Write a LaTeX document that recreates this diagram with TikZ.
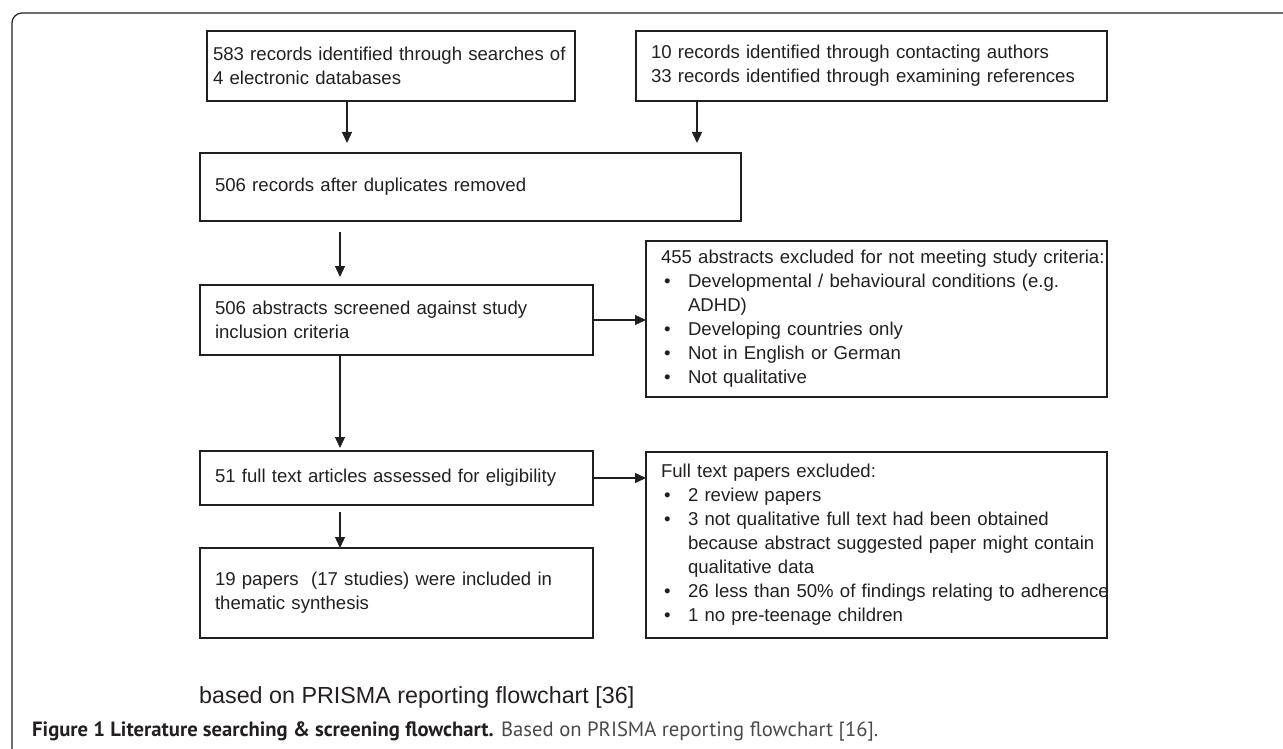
\documentclass[tikz,border=0pt]{standalone}
\usepackage{fontspec}
\usepackage{graphicx}
\setmainfont{Liberation Sans}
\newfontfamily\capfont{PT Sans}
\usetikzlibrary{arrows.meta}

\definecolor{inkc}{HTML}{231F20}
\definecolor{capgray}{HTML}{4A4A4A}

% bullet and hanging indent for the exclusion lists
\newcommand{\bul}{\makebox[27pt][l]{\hspace{3pt}\textbullet}}
\newcommand{\hang}{\hspace*{27pt}}

\tikzset{
  flowbox/.style={draw=inkc, line width=1.6pt, anchor=north west, align=left,
    inner xsep=15pt, inner ysep=0pt, outer sep=0pt, text=inkc,
    font=\fontsize{18.6}{24}\selectfont},
  arr/.style={-{Triangle[length=11pt,width=10pt]}, draw=inkc, line width=1.3pt}
}

\begin{document}
\begin{tikzpicture}[x=1pt, y=-1pt]
  \useasboundingbox (0,0) rectangle (1283,749);

  % outer frame
  \draw[inkc, line width=1.2pt, rounded corners=10pt] (1300,13) -- (12,13) -- (12,775);

  % records found
  \node[flowbox, inner xsep=6pt, text width=356pt, minimum height=70pt] (search) at (207,31)
    {\mbox{583 records identified through searches of}\\4 electronic databases};
  \node[flowbox, text width=441pt, minimum height=70pt] (other) at (636,31)
    {10 records identified through contacting authors\\33 records identified through examining references};

  % screening
  \node[flowbox, text width=511pt, minimum height=68pt] (dedup) at (200,153)
    {506 records after duplicates removed};
  \node[flowbox, text width=363pt, minimum height=70pt] (screen) at (200,285)
    {506 abstracts screened against study\\inclusion criteria};
  \node[flowbox, text width=431pt, minimum height=156pt] (absexcl) at (646,241)
    {\mbox{455 abstracts excluded for not meeting study criteria:}\\
     \bul Developmental / behavioural conditions (e.g.\\
     \hang ADHD)\\
     \bul Developing countries only\\
     \bul Not in English or German\\
     \bul Not qualitative};

  % eligibility
  \node[flowbox, text width=363pt, minimum height=54pt] (fulltext) at (200,451)
    {51 full text articles assessed for eligibility};
  \node[flowbox, text width=431pt, minimum height=186pt] (fullexcl) at (646,452)
    {Full text papers excluded:\\
     \bul 2 review papers\\
     \bul 3 not qualitative full text had been obtained\\
     \mbox{\hang because abstract suggested paper might contain}\\
     \hang qualitative data\\
     \mbox{\bul 26 less than 50\% of findings relating to adherence}\\
     \bul 1 no pre-teenage children};
  \node[flowbox, text width=363pt, minimum height=90pt] (incl) at (200,548)
    {19 papers\ \ (17 studies) were included in\\thematic synthesis};

  % arrows
  \coordinate (a1) at (347,0);
  \coordinate (a2) at (697,0);
  \coordinate (a3) at (340,0);
  \draw[arr, shorten >=10pt] (search.south -| a1) -- (dedup.north -| a1);
  \draw[arr, shorten >=10pt] (other.south -| a2) -- (dedup.north -| a2);
  \draw[arr, shorten <=11pt, shorten >=8pt] (dedup.south -| a3) -- (screen.north -| a3);
  \draw[arr] (screen.east) -- (screen.east -| absexcl.west);
  \draw[arr, shorten >=3pt] (screen.south -| a3) -- (fulltext.north -| a3);
  \draw[arr] (fulltext.east) -- (fulltext.east -| fullexcl.west);
  \draw[arr, shorten <=7pt] (fulltext.south -| a3) -- (incl.north -| a3);

  % notes
  \node[anchor=base west, inner sep=0pt, text=inkc, font=\fontsize{23.3}{28}\selectfont] (basis) at (199,703)
    {based on PRISMA reporting flowchart [36]};
  \node[anchor=base west, inner sep=0pt, text=capgray, font=\capfont\fontsize{19}{23}\selectfont] (caption) at (32,736)
    {\resizebox{846pt}{!}{\textbf{\color{inkc}Figure 1 Literature searching \& screening flowchart.} Based on PRISMA reporting flowchart [16].}};
\end{tikzpicture}
\end{document}
